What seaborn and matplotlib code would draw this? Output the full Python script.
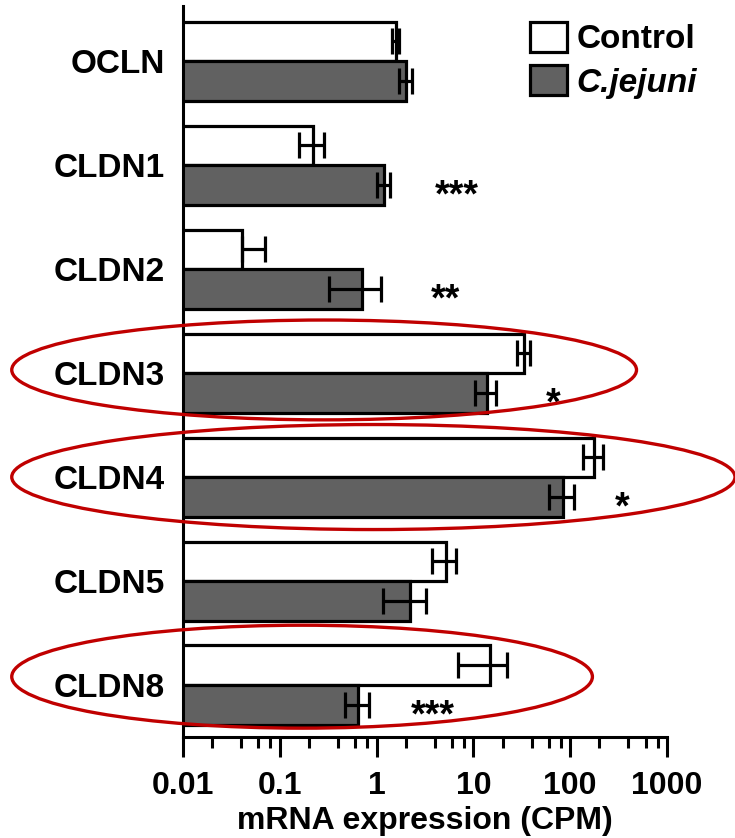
import matplotlib
matplotlib.use("Agg")
import matplotlib.pyplot as plt
import matplotlib.transforms as mtransforms
from matplotlib.patches import Ellipse, Patch
from matplotlib.ticker import LogLocator, FuncFormatter, NullFormatter
import pandas as pd
import seaborn as sns

# ---------DATA---------
genes = ["OCLN", "CLDN1", "CLDN2", "CLDN3", "CLDN4", "CLDN5", "CLDN8"]
groups = ["Control", "C.jejuni"]
control_mean = [1.57, 0.22, 0.041, 33.0, 178.0, 5.2, 14.7]
control_err = [0.12, 0.063, 0.029, 5.0, 42.0, 1.45, 7.7]
control_err_low = [0.12, 0.063, 0.0, 5.0, 42.0, 1.45, 7.7]  # lower whisker of CLDN2 not drawn
cjejuni_mean = [2.02, 1.18, 0.71, 13.8, 85.0, 2.19, 0.65]
cjejuni_err = [0.3, 0.18, 0.39, 3.4, 25.0, 1.03, 0.18]
significance = ["", "***", "**", "*", "*", "", "***"]

# ---------ANNOTATION LAYOUT---------
star_x = [1, 6.8, 5.2, 67, 340, 1, 3.8]
highlight = ["CLDN3", "CLDN4", "CLDN8"]
ellipse_cx = [0.441, 0.508, 0.411]     # figure fraction
ellipse_w = [0.850, 0.984, 0.790]      # figure fraction
ellipse_h = [0.96, 1.01, 0.99]         # category units
ellipse_dy = [-0.03, 0.0, -0.08]

colors = {"Control": "white", "C.jejuni": "#616161"}

sns.set_theme(style="ticks")
plt.rcParams["font.family"] = ["Liberation Sans", "DejaVu Sans"]
plt.rcParams["font.weight"] = "bold"
plt.rcParams["axes.labelweight"] = "bold"
for key in ["text.color", "axes.labelcolor", "xtick.color", "ytick.color", "axes.edgecolor"]:
    plt.rcParams[key] = "black"

df = pd.DataFrame({
    "gene": genes * 2,
    "group": ["Control"] * len(genes) + ["C.jejuni"] * len(genes),
    "cpm": control_mean + cjejuni_mean,
})

fig = plt.figure(figsize=(7.35, 8.38), dpi=100)
ax = fig.add_axes([183 / 735, 101 / 838, 484 / 735, 731 / 838])

sns.barplot(data=df, y="gene", x="cpm", hue="group", order=genes, hue_order=groups,
            palette=colors, edgecolor="black", linewidth=2.3, width=0.76,
            errorbar=None, orient="h", legend=False, ax=ax)

ax.set_xscale("log")
ax.set_xlim(0.01, 1000)
ax.set_ylim(6.5, -0.53)

# error bars placed on the drawn bars
lookup = {"Control": (control_mean, control_err_low, control_err),
          "C.jejuni": (cjejuni_mean, cjejuni_err, cjejuni_err)}
for p in ax.patches:
    yc = p.get_y() + p.get_height() / 2
    idx = int(round(yc))
    grp = "Control" if yc < idx else "C.jejuni"
    means, lo, hi = lookup[grp]
    ax.errorbar(p.get_width(), yc, xerr=[[lo[idx]], [hi[idx]]], fmt="none",
                ecolor="black", elinewidth=2.3, capsize=9.4, capthick=2.3, zorder=4)

for i, sig in enumerate(significance):
    if sig:
        ax.text(star_x[i], i + 0.40, sig, ha="center", va="baseline",
                fontsize=27, fontweight="bold", color="black")

# red highlight ellipses
trans = mtransforms.blended_transform_factory(fig.transFigure, ax.transData)
for g, cx, w, h, dy in zip(highlight, ellipse_cx, ellipse_w, ellipse_h, ellipse_dy):
    e = Ellipse((cx, genes.index(g) + dy), w, h, transform=trans, fill=False,
                edgecolor="#c00000", linewidth=2.4, clip_on=False, zorder=6)
    ax.add_patch(e)

ax.xaxis.set_major_locator(LogLocator(base=10))
ax.xaxis.set_minor_locator(LogLocator(base=10, subs=[2, 4, 6, 8]))
ax.xaxis.set_major_formatter(FuncFormatter(lambda v, _: f"{v:g}"))
ax.xaxis.set_minor_formatter(NullFormatter())
ax.tick_params(axis="x", which="major", length=14.4, width=2.2, direction="out",
               labelsize=23, pad=10, color="black", labelcolor="black")
ax.tick_params(axis="x", which="minor", length=8, width=2.2, direction="out", color="black")
ax.tick_params(axis="y", length=0, pad=13, labelsize=24, labelcolor="black")
for lab in ax.get_xticklabels() + ax.get_yticklabels():
    lab.set_fontweight("bold")

ax.set_xlabel("mRNA expression (CPM)", fontsize=23, labelpad=4, color="black")
ax.set_ylabel("")
sns.despine(ax=ax)
for s in ["left", "bottom"]:
    ax.spines[s].set_linewidth(2.2)
    ax.spines[s].set_color("black")

handles = [Patch(facecolor=colors[g], edgecolor="black", linewidth=2.3) for g in groups]
leg = fig.legend(handles, groups, loc="upper left", bbox_to_anchor=(530 / 735, 1 - 22 / 838),
                 frameon=False, fontsize=24, handlelength=1.1, handleheight=1.0,
                 handletextpad=0.3, labelspacing=0.3, borderpad=0, borderaxespad=0)
for t in leg.get_texts():
    t.set_fontweight("bold")
    t.set_color("black")
leg.get_texts()[1].set_fontstyle("italic")

fig.savefig("out.png", dpi=100)
